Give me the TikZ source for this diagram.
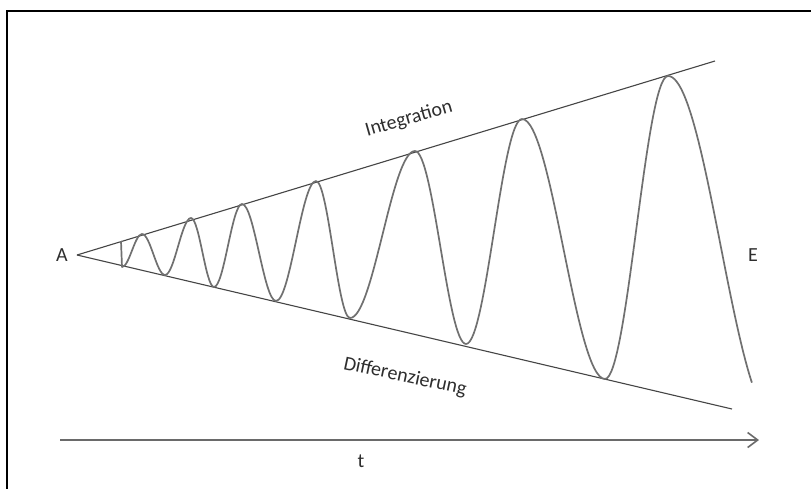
\documentclass[tikz,border=0pt]{standalone}
\usepackage{fontspec}
\setmainfont{Carlito}
\usetikzlibrary{arrows.meta}
\definecolor{wavegray}{HTML}{707070}
\definecolor{linegray}{HTML}{454545}
\definecolor{arrowgray}{HTML}{6A6A6A}
\definecolor{textgray}{HTML}{2E2E2E}
\begin{document}
\begin{tikzpicture}[x=1pt,y=-1pt,
  lbl/.style={inner sep=0pt, text=textgray, font=\fontsize{20}{24}\selectfont},
  bound/.style={draw=linegray, line width=1.1pt},
  wave/.style={draw=wavegray, line width=1.7pt, line join=round},
  taxis/.style={draw=arrowgray, line width=2.3pt, -{Straight Barb[length=10pt,width=15pt,line width=1.6pt]}}]
\clip (0,0) rectangle (811,488);
\fill[white] (0,0) rectangle (811,488);
\draw[black, line width=1.6pt] (7,11) rectangle (840,520);
% labels
\node[lbl] (A) at (62,255) {A};
\node[lbl] (E) at (753,255) {E};
\node[lbl] (t) at (361,461) {t};
% cone
\coordinate (apex) at (77,255);
\coordinate (up) at (715,61);
\coordinate (lo) at (732,409);
\draw[bound] (apex) -- (up);
\draw[bound] (apex) -- (lo);
\node[lbl, rotate=16] (int) at (409,119) {Integration};
\node[lbl, rotate=-12] (diff) at (405,377) {Differenzierung};
% time axis
\coordinate (ts) at (60,440);
\coordinate (te) at (759,440);
\draw[taxis] (ts) -- (te);
% wave
\draw[wave] (121,241) -- (122,267)
  .. controls (129.2,267) and (134.8,234) .. (142,234)
  .. controls (150.3,234) and (156.7,275) .. (165,275)
  .. controls (174.4,275) and (181.6,218) .. (191,218)
  .. controls (199.3,218) and (205.7,287) .. (214,287)
  .. controls (224.1,287) and (231.9,204) .. (242,204)
  .. controls (254.2,204) and (263.8,301) .. (276,301)
  .. controls (290.4,301) and (301.6,181) .. (316,181)
  .. controls (328.2,181) and (337.8,318) .. (350,318)
  .. controls (373.4,318) and (391.6,151) .. (415,151)
  .. controls (433.4,151) and (447.6,344) .. (466,344)
  .. controls (486.2,344) and (501.8,119) .. (522,119)
  .. controls (551.9,119) and (575.1,379) .. (605,379)
  .. controls (627.7,379) and (645.3,76) .. (668,76)
  -- plot[domain=0:0.795, samples=40, smooth] ({668+105.6*\x},{246.5-170.5*cos(180*\x)});
\end{tikzpicture}
\end{document}
